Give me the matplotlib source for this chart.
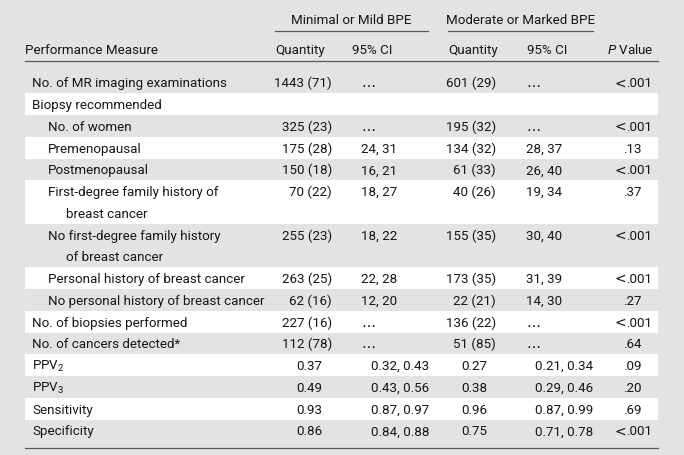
import matplotlib.pyplot as plt
from matplotlib.patches import Rectangle

plt.rcParams['font.family'] = ['Roboto', 'DejaVu Sans']
plt.rcParams['mathtext.fontset'] = 'custom'
plt.rcParams['mathtext.rm'] = 'Roboto'
plt.rcParams['mathtext.it'] = 'Roboto:italic'

# table content
groups = ["Minimal or Mild BPE", "Moderate or Marked BPE"]
col_heads = ["Performance Measure", "Quantity", "95% CI", "Quantity", "95% CI", r"$\mathit{P}$ Value"]
measures = ["No. of MR imaging examinations", "Biopsy recommended", "No. of women",
            "Premenopausal", "Postmenopausal",
            "First-degree family history of\nbreast cancer",
            "No first-degree family history\nof breast cancer",
            "Personal history of breast cancer", "No personal history of breast cancer",
            "No. of biopsies performed", "No. of cancers detected*",
            r"PPV$_{\mathregular{2}}$", r"PPV$_{\mathregular{3}}$", "Sensitivity", "Specificity"]
indent = [0, 0, 1, 1, 1, 1, 1, 1, 1, 0, 0, 0, 0, 0, 0]
qty_mild = ["1443 (71)", "", "325 (23)", "175 (28)", "150 (18)", "70 (22)", "255 (23)",
            "263 (25)", "62 (16)", "227 (16)", "112 (78)", "0.37", "0.49", "0.93", "0.86"]
ci_mild = ["…", "", "…", "24, 31", "16, 21", "18, 27", "18, 22", "22, 28", "12, 20",
           "…", "…", "0.32, 0.43", "0.43, 0.56", "0.87, 0.97", "0.84, 0.88"]
qty_marked = ["601 (29)", "", "195 (32)", "134 (32)", "61 (33)", "40 (26)", "155 (35)",
              "173 (35)", "22 (21)", "136 (22)", "51 (85)", "0.27", "0.38", "0.96", "0.75"]
ci_marked = ["…", "", "…", "28, 37", "26, 40", "19, 34", "30, 40", "31, 39", "14, 30",
             "…", "…", "0.21, 0.34", "0.29, 0.46", "0.87, 0.99", "0.71, 0.78"]
p_values = ["<.001", "", "<.001", ".13", "<.001", ".37", "<.001", "<.001", ".27",
            "<.001", ".64", ".09", ".20", ".69", "<.001"]

W, H = 684, 455
fig = plt.figure(figsize=(W / 100, H / 100), dpi=100)
fig.patch.set_facecolor('#e3e3e3')
ax = fig.add_axes([0, 0, 1, 1])
ax.set_xlim(0, W)
ax.set_ylim(H, 0)
ax.axis('off')

txt = '#161616'
line = '#5a5a5a'
fs = 9.6
left, right = 25, 658
top, rh = 71.5, 21.75


def put(x, y, s, ha='left'):
    if s == '…':
        # the source uses widely spaced dots
        ax.text(x, y, s, ha=ha, va='baseline', fontsize=10, color=txt, family='DejaVu Sans')
    else:
        ax.text(x, y, s, ha=ha, va='baseline', fontsize=fs, color=txt)


# spanner headers
for g, (x0, x1) in zip(groups, [(275, 428), (448, 593)]):
    ax.text((x0 + x1) / 2, 24, g, ha='center', va='baseline', fontsize=fs, color=txt)
    ax.plot([x0, x1], [30.5, 30.5], color=line, lw=0.9)

# column headings
for h, x in zip(col_heads, [25, 275, 352, 448, 527, 607]):
    put(x, 54, h)
ax.plot([left, right], [60.5, 60.5], color=line, lw=0.9)

# (x for right/left aligned counts, x for centred decimals, alignment)
cols = [(qty_mild, 332, 309, 'right'), (ci_mild, 361, 400, 'left'),
        (qty_marked, 496, 474.5, 'right'), (ci_marked, 526, 564, 'left')]

y = top
for i, m in enumerate(measures):
    lines = m.split('\n')
    h = rh * len(lines)
    if i % 2 == 1:
        ax.add_patch(Rectangle((left, y), right - left, h, facecolor='white', edgecolor='none'))
    base = y + rh / 2 + 5
    lx = 32 + 16 * indent[i]
    for k, ln in enumerate(lines):
        put(lx + (18 if k else 0), base + k * rh, ln)
    for vals, xa, xc, al in cols:
        v = vals[i]
        if v.startswith('0.'):
            put(xc, base, v, 'center')
        else:
            put(xa, base, v, al)
    p = p_values[i]
    if p.startswith('<'):
        ax.text(626, base, '<', ha='right', va='baseline', fontsize=10, color=txt,
                family='DejaVu Sans')
        put(626.5, base, p[1:])
    else:
        put(632, base, p, 'center')
    y += h

ax.plot([left, right], [447.5, 447.5], color=line, lw=0.9)

fig.savefig('out.png', dpi=100, facecolor=fig.get_facecolor())
